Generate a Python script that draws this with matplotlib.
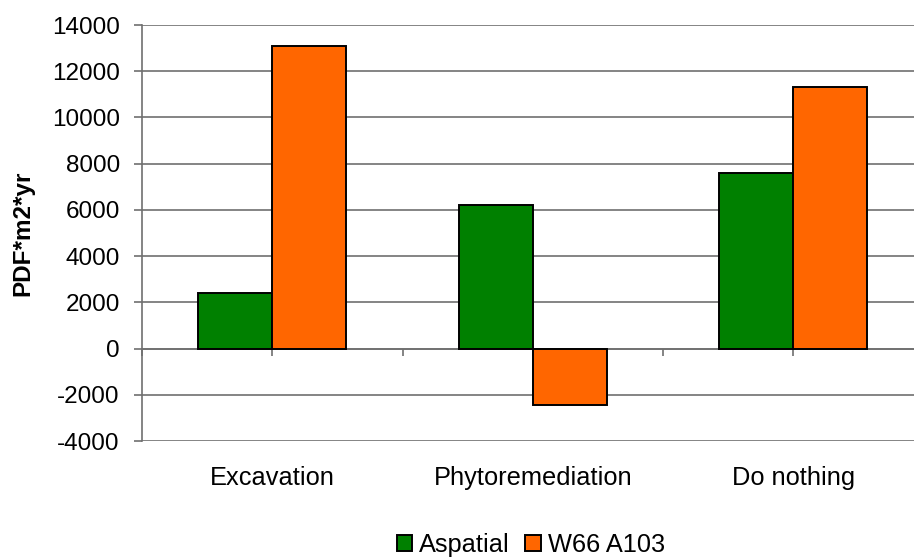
import matplotlib
matplotlib.use("Agg")
import matplotlib.pyplot as plt
from matplotlib.patches import Patch
import matplotlib.transforms as mtransforms
import numpy as np

categories = ["Excavation", "Phytoremediation", "Do nothing"]
aspatial = [2400, 6200, 7600]
w66 = [13100, -2450, 11300]
series_names = ["Aspatial", "W66 A103"]
yticks = [-4000, -2000, 0, 2000, 4000, 6000, 8000, 10000, 12000, 14000]

plt.rcParams['font.family'] = ['Liberation Sans', 'DejaVu Sans']
FS = 17.5
FS2 = 18.3

W, H = 914, 558
fig = plt.figure(figsize=(W / 100, H / 100), dpi=100)
ax = fig.add_axes([142 / W, 1 - 441 / H, 1 - 142 / W, (441 - 25) / H])

green = "#008000"
orange = "#FF6600"
x = np.arange(len(categories))
bw = 0.285
ax.bar(x - bw / 2, aspatial, bw, color=green, edgecolor="black", linewidth=1.4, zorder=3)
ax.bar(x + bw / 2, w66, bw, color=orange, edgecolor="black", linewidth=1.4, zorder=3)

ax.set_yticks(yticks)
ax.set_yticklabels([str(v) for v in yticks], fontsize=FS)
ax.yaxis.grid(True, color="#707070", linewidth=1.2, zorder=0)
ax.set_axisbelow(True)

for s in ["top", "right"]:
    ax.spines[s].set_visible(False)
ax.spines["left"].set_color("#707070")
ax.spines["left"].set_linewidth(1.2)
ax.spines["bottom"].set_position(("data", 0))
ax.spines["bottom"].set_color("#707070")
ax.spines["bottom"].set_linewidth(1.2)
ax.spines["bottom"].set_zorder(1)

ax.tick_params(axis="y", length=6, width=1.2, color="#707070", pad=10)
ax.set_xticks(np.arange(-0.5, 2.6, 0.5))
ax.set_xticklabels([])
ax.tick_params(axis="x", length=5, width=1.2, color="#707070", direction="out")

ax.set_ylim(-4000, 14000)
ax.set_xlim(-0.5, (914 - 142) / 260.5 - 0.5)

trans = mtransforms.blended_transform_factory(ax.transData, ax.transAxes)
for i, c in enumerate(categories):
    ax.annotate(c, xy=(i, 0), xycoords=trans, xytext=(0, -37 * 0.72),
                textcoords="offset points", ha="center", va="center", fontsize=FS2)

fig.text(23 / W, 1 - 233 / H, "PDF*m2*yr", rotation=90, ha="center", va="center",
         fontsize=FS, fontweight="bold")

handles = [Patch(facecolor=green, edgecolor="black", linewidth=1.4),
           Patch(facecolor=orange, edgecolor="black", linewidth=1.4)]
fig.legend(handles, series_names, loc="center", bbox_to_anchor=(531 / W, 1 - 545 / H),
           ncol=2, frameon=False, fontsize=FS2, handlelength=0.6, handleheight=0.6,
           handletextpad=0.3, columnspacing=0.6, borderaxespad=0)

fig.savefig("out.png", dpi=100)
